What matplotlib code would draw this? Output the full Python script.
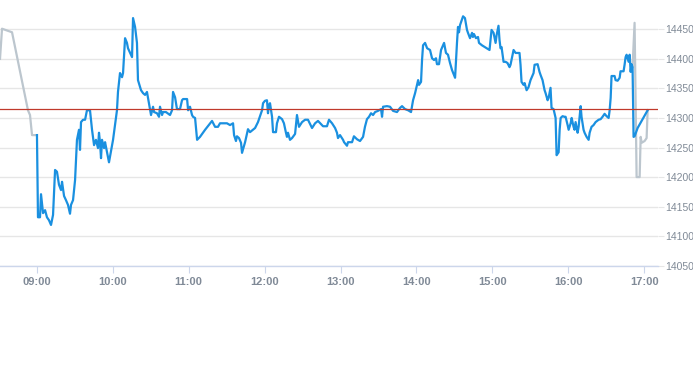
import numpy as np
import matplotlib
matplotlib.use("Agg")
import matplotlib.pyplot as plt

# minutes after 09:00 and index level
pre_minutes = [-29.0, -27.4, -19.5, -6.9, -5.3, -3.7, 0.2]
pre_values = [14400, 14451, 14445, 14313, 14305, 14271, 14271]

day_minutes = [
    0.2, 1.0, 2.6, 3.4, 5.0, 6.6, 8.1, 9.7, 11.3, 12.9, 14.5, 16.0, 17.6, 19.2, 20.0,
    21.6, 23.1, 24.7, 26.3, 27.1, 28.7, 30.3, 31.8, 33.4, 34.2, 35.0, 36.6, 38.2, 39.7,
    42.1, 43.7, 45.3, 46.8, 48.4, 49.2, 50.0, 50.8, 51.6, 53.2, 54.0, 57.1, 60.3, 63.4,
    64.2, 65.8, 67.4, 68.2, 69.8, 71.3, 72.1, 75.3, 76.1, 77.7, 79.2, 80.0, 82.4, 84.0,
    85.6, 87.1, 87.9, 90.3, 91.9, 92.7, 95.0, 96.6, 97.4, 99.0, 99.8, 102.1, 105.3,
    106.9, 107.7, 109.3, 110.8, 113.2, 114.8, 115.6, 118.8, 119.6, 121.1, 122.7, 123.5,
    125.1, 126.7, 129.0, 133.0, 138.5, 140.9, 143.2, 144.8, 150.3, 152.7, 155.1, 155.9,
    157.4, 158.2, 159.8, 161.4, 162.2, 164.6, 166.9, 168.5, 172.5, 174.8, 178.0, 178.8,
    180.3, 181.9, 182.7, 183.5, 184.3, 185.9, 186.7, 189.0, 189.8, 191.4, 193.8, 195.3,
    196.9, 197.7, 198.5, 200.1, 201.7, 204.1, 205.6, 207.2, 209.6, 212.0, 214.3, 217.5,
    219.9, 222.2, 225.4, 226.2, 229.3, 230.9, 233.3, 235.7, 237.2, 238.0, 239.6, 242.0,
    242.8, 245.1, 245.9, 249.1, 250.6, 253.0, 255.4, 257.8, 259.3, 260.9, 262.5, 264.1,
    265.7, 267.3, 269.6, 272.0, 272.8, 273.6, 276.7, 279.1, 281.5, 284.6, 287.0, 288.6,
    291.0, 293.4, 295.7, 297.3, 298.9, 301.3, 302.0, 303.6, 304.4, 305.2, 306.8, 308.4,
    310.7, 312.3, 313.9, 315.4, 316.2, 317.8, 319.4, 321.0, 321.8, 323.3, 324.9, 326.5,
    328.1, 330.5, 332.0, 332.8, 333.6, 334.4, 336.0, 336.8, 338.3, 339.9, 340.7, 342.3,
    343.9, 344.6, 345.4, 347.0, 348.6, 349.4, 351.7, 357.7, 359.3, 360.9, 362.5, 363.3,
    364.8, 365.6, 366.4, 367.2, 368.8, 370.4, 371.9, 373.5, 374.3, 376.7, 378.3, 379.1,
    380.6, 381.4, 382.2, 383.0, 384.6, 385.4, 387.0, 388.5, 390.1, 392.5, 393.3, 395.7,
    397.2, 398.0, 399.6, 401.2, 402.0, 403.6, 404.4, 405.9, 406.7, 408.3, 409.9, 410.7,
    412.3, 413.1, 413.9, 415.4, 417.0, 417.8, 419.4, 420.2, 421.8, 422.6, 424.1, 424.9,
    425.7, 427.3, 428.1, 429.7, 430.4, 432.0, 432.8, 434.4, 436.0, 436.8, 438.3, 439.9,
    441.5, 443.9, 445.5, 447.0, 448.6, 450.2, 451.8, 452.6, 453.4, 454.1, 456.5, 457.3,
    458.9, 460.5, 461.2, 463.6, 464.4, 465.2, 466.0, 467.6, 468.4, 469.2, 469.9, 470.7,
    471.5, 472.3, 474.7, 482.6,
]
day_values = [
    14271, 14132, 14132, 14171, 14139, 14144, 14132, 14127, 14119, 14136, 14212, 14209, 14187, 14178, 14192,
    14168, 14161, 14153, 14138, 14153, 14161, 14195, 14263, 14280, 14246, 14293, 14297, 14297, 14313,
    14313, 14280, 14254, 14263, 14249, 14275, 14259, 14232, 14263, 14249, 14259, 14225, 14263, 14313,
    14344, 14376, 14369, 14376, 14435, 14427, 14418, 14403, 14469, 14454, 14427, 14364, 14347, 14342,
    14339, 14344, 14334, 14305, 14319, 14310, 14308, 14302, 14319, 14305, 14310, 14310, 14305,
    14313, 14344, 14335, 14315, 14315, 14330, 14332, 14332, 14313, 14319, 14305, 14302,
    14300, 14263, 14268, 14280, 14295, 14285, 14285, 14291, 14291, 14288, 14291, 14271,
    14261, 14269, 14266, 14258, 14241, 14259, 14281, 14276, 14283, 14293, 14313, 14325,
    14329, 14330, 14308, 14322, 14325, 14302, 14276, 14276, 14291, 14302, 14298, 14291,
    14275, 14268, 14275, 14263, 14266, 14273, 14305, 14285, 14293, 14297, 14297, 14283,
    14291, 14295, 14288, 14286, 14286, 14297, 14291, 14283, 14275, 14266, 14271, 14263,
    14259, 14253, 14259, 14259, 14269, 14264, 14261, 14268, 14285, 14298, 14302, 14308,
    14305, 14310, 14312, 14315, 14302, 14319, 14320, 14319, 14312, 14310, 14317, 14320,
    14315, 14313, 14310, 14330, 14342, 14364, 14356, 14361, 14398, 14423, 14427, 14418,
    14415, 14401, 14398, 14401, 14391, 14391, 14415, 14423, 14427, 14410, 14407, 14393,
    14381, 14368, 14427, 14454, 14445, 14457, 14467, 14472, 14469, 14449, 14444, 14435,
    14444, 14437, 14442, 14435, 14437, 14427, 14423, 14415, 14449, 14444, 14427, 14440,
    14456, 14432, 14418, 14420, 14395, 14395, 14393, 14386, 14390, 14415, 14410, 14410,
    14410, 14410, 14390, 14361, 14356, 14359, 14347, 14352, 14364, 14376, 14390, 14391,
    14378, 14373, 14364, 14347, 14342, 14330, 14334, 14351, 14317, 14315, 14300, 14237,
    14242, 14280, 14300, 14303, 14302, 14302, 14288, 14280, 14291, 14300, 14285, 14280,
    14293, 14275, 14285, 14320, 14302, 14280, 14275, 14268, 14263, 14275, 14285, 14288,
    14293, 14297, 14298, 14302, 14307, 14303, 14300, 14313, 14334, 14371, 14371, 14364,
    14363, 14368, 14379, 14379, 14390, 14403, 14407, 14395, 14407, 14378, 14391, 14386,
    14268, 14269, 14283, 14313,
]

post_minutes = [470.7, 472.3, 473.9, 476.3, 477.1, 477.9, 480.2, 481.8, 482.6]
post_values = [14386, 14461, 14200, 14200, 14268, 14258, 14261, 14266, 14312]

prev_close = 14315

hour_ticks = [0, 60, 120, 180, 240, 300, 360, 420, 480]
hour_labels = ["09:00", "10:00", "11:00", "12:00", "13:00", "14:00", "15:00", "16:00", "17:00"]
price_ticks = [14050, 14100, 14150, 14200, 14250, 14300, 14350, 14400, 14450]

plt.rcParams['font.family'] = ['Liberation Sans', 'DejaVu Sans']

fig = plt.figure(figsize=(6.93, 3.65), dpi=100)
ax = fig.add_axes([0.0, 0.272, 658 / 693, 0.728])

grid_col = '#e6e6e6'
label_col = '#808a97'

for p in price_ticks:
    ax.axhline(p, color=grid_col, lw=1.0, zorder=0)

ax.plot(pre_minutes, pre_values, color='#bcc6ce', lw=1.6, zorder=2, solid_joinstyle='round')
ax.plot(post_minutes, post_values, color='#bcc6ce', lw=1.6, zorder=2, solid_joinstyle='round')
ax.plot(day_minutes, day_values, color='#1a90e0', lw=1.6, zorder=3, solid_joinstyle='round')
ax.axhline(prev_close, color='#c0392b', lw=0.9, zorder=4)

ax.set_xlim(-29.0, 490.8)
ax.set_ylim(14050, 14499.6)

ax.set_xticks(hour_ticks)
ax.set_xticklabels(hour_labels, fontsize=8, fontweight='bold', color=label_col)
ax.set_yticks(price_ticks)
ax.set_yticklabels([str(p) for p in price_ticks], fontsize=7.5, color=label_col)
ax.yaxis.tick_right()
ax.tick_params(axis='y', length=4, color=grid_col, pad=1)
ax.tick_params(axis='x', length=5, color='#ccd6eb', pad=3)

for s in ['top', 'left', 'right']:
    ax.spines[s].set_visible(False)
ax.spines['bottom'].set_color('#ccd6eb')
ax.spines['bottom'].set_linewidth(1.0)

fig.savefig('out.png', dpi=100)
